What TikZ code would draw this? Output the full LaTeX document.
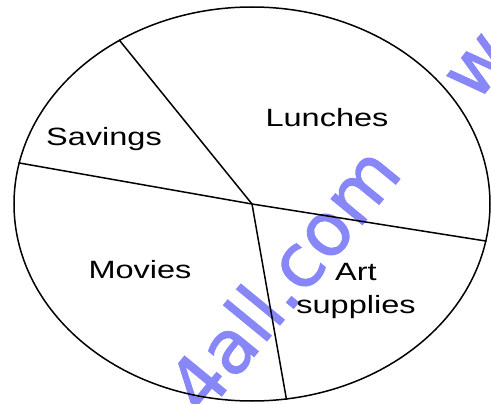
\documentclass[tikz,border=0pt]{standalone}
\usepackage{fontspec}
\setmainfont{Liberation Sans}
\newfontfamily\wmfont[FakeBold=1.5]{DejaVu Sans}
\usetikzlibrary{shapes.geometric}
\definecolor{wmblue}{RGB}{135,135,248}
\begin{document}
\begin{tikzpicture}[x=1pt, y=-1pt,
  slice/.style={font=\fontsize{25}{33}\selectfont, xscale=1.3, anchor=base, align=center, inner sep=0pt},
  spoke/.style={line width=1.5pt},
  wmark/.style={text=wmblue, font=\wmfont\fontsize{74}{74}\selectfont, rotate=50.6, inner sep=0pt}]
\useasboundingbox (0,0) rectangle (491,404);
% watermark
\begin{scope}
\clip (0,0) rectangle (491,404);
\node [wmark, anchor=base east] (site) at (404,174) {4all.com};
\node [wmark, anchor=base west] (www) at (476,104) {w};
\end{scope}
% pie
\node [ellipse, draw=black, line width=1.5pt, minimum width=476pt, minimum height=394pt, inner sep=0pt] (pie) at (252,204) {};
\draw [spoke] (pie.center) -- (pie.129.8);
\draw [spoke] (pie.center) -- (pie.170.2);
\draw [spoke] (pie.center) -- (pie.-9.5);
\draw [spoke] (pie.center) -- (pie.-80.7);
% labels
\node [slice] (savings) at (104,146) {Savings};
\node [slice] (lunches) at (327,127) {Lunches};
\node [slice] (movies) at (140,278) {Movies};
\node [slice] (art) at (356,313) {Art\\supplies};
\end{tikzpicture}
\end{document}
